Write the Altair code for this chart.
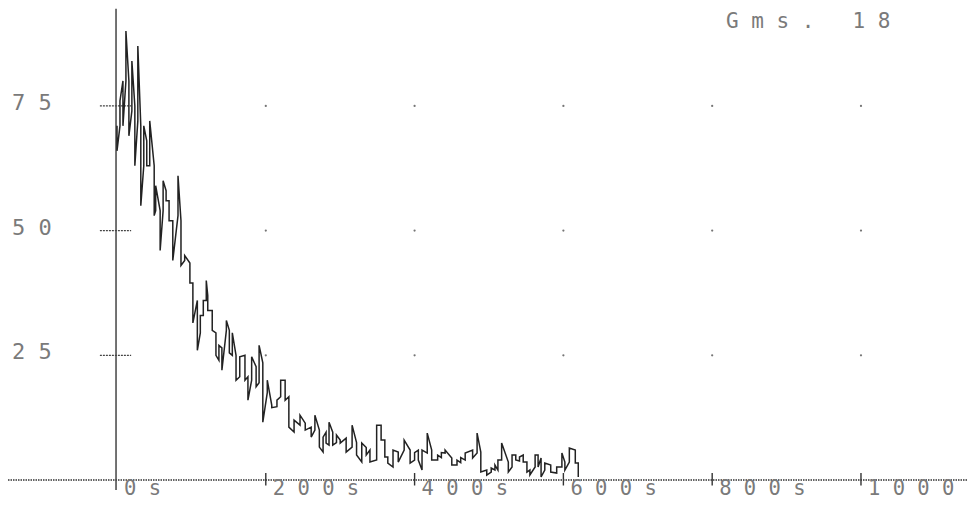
import altair as alt
import pandas as pd

# ---- data ----
# time (s) of each printed column, and its low / high value
col_t = [0, 4, 8, 12, 16, 20, 24, 28, 32, 36, 40, 44, 50, 52, 58, 62, 66, 70, 75, 82,
         86, 91, 98, 102, 108, 112, 116, 120, 122, 128, 133, 137, 141, 147, 151, 155, 160, 165, 172, 176,
         181, 187, 191, 196, 202, 208, 215, 220, 226, 231, 238, 246, 253, 261, 266, 272, 277, 281, 285, 290,
         295, 300, 308, 316, 322, 329, 335, 340, 349, 355, 360, 364, 371, 378, 386, 394, 400, 405, 410, 417,
         423, 431, 436, 441, 450, 457, 462, 468, 478, 484, 489, 497, 503, 508, 512, 517, 526, 531, 536, 541,
         546, 551, 555, 562, 566, 570, 575, 583, 591, 598, 602, 608, 616, 620]
col_lo = [66, 71, 71, 80, 69, 74, 63, 72, 55, 63, 63, 63, 53, 54, 46, 54, 56, 52, 44, 53,
          43, 44, 39.5, 31.5, 26, 29.5, 33, 36, 34, 30, 25, 24, 22, 30, 25.5, 25, 20, 20.7, 20, 16,
          20, 18.7, 19.5, 11.6, 17.5, 14.5, 14.7, 16.7, 16, 10.6, 9.6, 11, 10, 8.6, 10, 6.6, 5.6, 7.4, 7, 7,
          7.5, 7.4, 5.6, 6.6, 5, 3.6, 5, 3.6, 4, 8, 4.6, 3.4, 2.6, 3.6, 6, 3.4, 4, 4, 2, 5.4,
          4, 4, 4.5, 5.4, 3, 3, 3.5, 4, 4.4, 5.4, 1.6, 1, 1.6, 2, 2, 4, 1.6, 2.6, 4, 3.8,
          3.6, 1.6, 1, 2.6, 2.6, 0.6, 2, 1.6, 1.4, 2.6, 2, 3.6, 3.4, 0.6]
col_hi = [71, 76, 80, 90, 80, 84, 75, 87, 71, 71, 68, 72, 63, 59, 54, 60, 58, 56, 52, 61,
          52, 45, 43.5, 39.5, 36, 33, 36, 40, 37, 34, 29.5, 27, 26.5, 32, 30, 29.5, 25, 24.7, 25, 20.7,
          24.7, 22.7, 27, 23.5, 20, 15, 16, 20, 20, 16.7, 12, 13, 11.4, 10.6, 13, 10, 8.6, 9.6, 11.6, 9.6,
          9, 8, 8.4, 11, 7.5, 7.4, 6.5, 6, 11, 11, 8, 4.6, 6, 5.6, 8, 6, 5.5, 6, 6, 9.4,
          6, 5, 5.5, 6, 4.4, 4, 4.5, 5.4, 6, 9.4, 5.6, 2, 2.4, 3, 4, 7.4, 3.6, 5, 5, 4.6,
          5, 3.6, 2, 5, 5, 4.4, 3.4, 3, 2.6, 5.4, 3.6, 6.4, 6, 3.4]

NB = "\u00a0"
x_ticks = [0, 200, 400, 600, 800, 1000]
x_labels = [NB.join(s) for s in ["0s", "200s", "400s", "600s", "800s", "1000s"]]
y_ticks = [25, 50, 75]
y_labels = [NB.join(s) for s in ["25", "50", "75"]]
header = NB.join("Gms.") + NB * 3 + NB.join("18")

# ---- scales (page geometry of the printout) ----
xs = alt.Scale(domain=[-146.5, 1142.5], nice=False, zero=False)
ys = alt.Scale(domain=[-4.01, 94.63], nice=False, zero=False)
INK = "#222222"
TXT = "#7a7a7a"
FONT = "DejaVu Sans Mono"

# continuous trace through the printed columns
rows = []
prev = col_hi[0]
i = 0
for t, lo, hi in zip(col_t, col_lo, col_hi):
    if abs(lo - prev) <= abs(hi - prev):
        a, b = lo, hi
    else:
        a, b = hi, lo
    rows.append({"i": i, "t": t, "v": a}); i += 1
    rows.append({"i": i, "t": t, "v": b}); i += 1
    prev = b
trace = pd.DataFrame(rows)

X = lambda f: alt.X(f, type="quantitative", scale=xs, axis=None)
Y = lambda f: alt.Y(f, type="quantitative", scale=ys, axis=None)

line = alt.Chart(trace).mark_line(color=INK, strokeWidth=1.5).encode(
    x=X("t"), y=Y("v"), order="i:Q")

# baseline (dotted) across the whole page
base_df = pd.DataFrame({"x": [-146.5], "x2": [1142.5], "y": [0]})
baseline = alt.Chart(base_df).mark_rule(color="#333", strokeWidth=1.3, strokeDash=[1.5, 1]).encode(
    x=X("x"), x2="x2", y=Y("y"))

# vertical axis
vax_df = pd.DataFrame({"x": [-1.3], "y": [94.5], "y2": [-2]})
vaxis = alt.Chart(vax_df).mark_rule(color="#444", strokeWidth=1.5).encode(
    x=X("x"), y=Y("y"), y2="y2")

# y tick dashes crossing the axis
yt_df = pd.DataFrame({"v": y_ticks, "x": [-23] * 3, "x2": [19] * 3})
yticks = alt.Chart(yt_df).mark_rule(color="#444", strokeWidth=1.3, strokeDash=[2, 1]).encode(
    x=X("x"), x2="x2", y=Y("v"))

# x tick marks
xt_df = pd.DataFrame({"t": x_ticks[1:], "y": [1.4] * 5, "y2": [-1.1] * 5})
xticks = alt.Chart(xt_df).mark_rule(color="#333", strokeWidth=1.4).encode(
    x=X("t"), y=Y("y"), y2="y2")

# grid dots
g = [{"t": t, "v": v} for t in x_ticks[1:] for v in y_ticks]
dots = alt.Chart(pd.DataFrame(g)).mark_point(filled=True, color="#666", size=5, opacity=0.9).encode(
    x=X("t"), y=Y("v"))

# labels
xl_df = pd.DataFrame({"t": x_ticks, "v": [0] * 6, "lab": x_labels})
xlab = alt.Chart(xl_df).mark_text(align="left", baseline="alphabetic", dx=7, dy=15,
                                  font=FONT, fontSize=20.5, color=TXT).encode(
    x=X("t"), y=Y("v"), text="lab:N")

yl_df = pd.DataFrame({"t": [-141] * 3, "v": y_ticks, "lab": y_labels})
ylab = alt.Chart(yl_df).mark_text(align="left", baseline="alphabetic", dy=4,
                                  font=FONT, fontSize=22, color=TXT).encode(
    x=X("t"), y=Y("v"), text="lab:N")

hd_df = pd.DataFrame({"t": [818.5], "v": [90.62], "lab": [header]})
head = alt.Chart(hd_df).mark_text(align="left", baseline="alphabetic",
                                  font=FONT, fontSize=21, color=TXT).encode(
    x=X("t"), y=Y("v"), text="lab:N")

chart = alt.layer(baseline, yticks, xticks, dots, vaxis, line, xlab, ylab, head).properties(
    width=959, height=492, autosize="none", padding=0,
    background="white",
).configure_view(stroke=None)

chart.save("out.html", embed_options={"renderer": "svg", "actions": False})
